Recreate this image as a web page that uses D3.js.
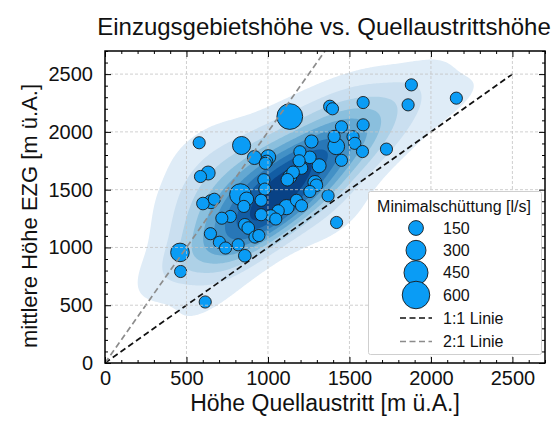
<!DOCTYPE html>
<html><head><meta charset="utf-8">
<script src="https://cdn.jsdelivr.net/npm/d3@7"></script>
<style>body{margin:0;background:#fff} svg{display:block;font-family:"Liberation Sans", Arial, Helvetica, sans-serif}</style>
</head><body><svg id="c" width="551" height="424"></svg>
<script>
// ---- data ----
const hoeheQuelle = [1134,578,838,1267,917,1002,991,984,1196,1191,1257,1314,1206,1154,1134,1119,975,981,1288,1297,831,869,958,852,601,650,671,633,586,1114,1175,1206,1063,1018,1048,958,1369,1421,769,717,858,879,647,920,944,702,817,740,858,460,464,615,1380,1396,1584,1880,2156,1860,1451,1584,1406,1522,1533,1419,1580,1727,1451,1257];
const hoeheEZG    = [2133,1906,1882,1917,1778,1782,1744,1728,1828,1750,1780,1707,1687,1650,1612,1586,1586,1505,1562,1538,1458,1419,1408,1355,1380,1396,1417,1644,1614,1349,1408,1361,1317,1274,1246,1283,1447,1216,1268,1253,1196,1168,1119,1090,1103,1045,1023,995,928,957,792,528,2220,2200,2254,2407,2292,2234,2044,2061,1960,1958,1901,1875,1830,1851,1754,1484];
const minSchuettung = [520,90,240,110,130,150,100,90,90,90,100,130,100,100,130,100,90,90,130,100,355,130,90,90,100,130,90,130,90,160,90,90,90,90,90,90,90,90,90,90,100,100,90,90,90,90,90,90,100,255,90,90,100,90,90,90,90,90,90,90,90,90,90,200,90,90,90,90];
const xTicks = [0,500,1000,1500,2000,2500];
const yTicks = [0,500,1000,1500,2000,2500];
const legendSizes = [150,300,450,600];
const legendLines = ["1:1 Linie","2:1 Linie"];
const titleText = "Einzugsgebietshöhe vs. Quellaustrittshöhe";
const xLabel = "Höhe Quellaustritt [m ü.A.]";
const yLabel = "mittlere Höhe EZG [m ü.A.]";
const legendTitle = "Minimalschüttung [l/s]";

// ---- layout ----
const L = 105, R = 545, T = 51, B = 363;
const svg = d3.select("#c");
const x = d3.scaleLinear().domain([0,2700]).range([L,R]);
const y = d3.scaleLinear().domain([0,2700]).range([B,T]);
const area = d3.scaleLinear().domain([0,600]).range([10,190]);
const rad = v => Math.sqrt(area(v));

svg.append("clipPath").attr("id","clip").append("rect")
  .attr("x",L).attr("y",T).attr("width",R-L).attr("height",B-T);

// ---- KDE (gaussian, full covariance, scott) ----
const n = hoeheQuelle.length;
const mx = d3.mean(hoeheQuelle), my = d3.mean(hoeheEZG);
let sxx=0, syy=0, sxy=0;
for (let i=0;i<n;i++){const dx=hoeheQuelle[i]-mx, dy=hoeheEZG[i]-my; sxx+=dx*dx; syy+=dy*dy; sxy+=dx*dy;}
sxx/=(n-1); syy/=(n-1); sxy/=(n-1);
const bwAdjust = 1.15;
const f2 = Math.pow(bwAdjust*Math.pow(n,-1/6),2);
const a=sxx*f2, b=sxy*f2, c=syy*f2, det=a*c-b*b;
const ia=c/det, ib=-b/det, ic=a/det;
const step=10, nx=271, ny=271;
const values = new Float64Array(nx*ny);
for (let j=0;j<ny;j++){ const gy=j*step;
  for (let i=0;i<nx;i++){ const gx=i*step; let s=0;
    for (let k=0;k<n;k++){ const dx=gx-hoeheQuelle[k], dy=gy-hoeheEZG[k];
      s+=Math.exp(-0.5*(ia*dx*dx+2*ib*dx*dy+ic*dy*dy)); }
    values[j*nx+i]=s; } }
const sorted = Array.from(values).sort((p,q)=>q-p);
const total = d3.sum(sorted);
const cum = []; let acc=0; for (const v of sorted){acc+=v; cum.push(acc/total);}
const isoprops = d3.range(10).map(i=>0.05+i*0.95/9);
const levels = isoprops.map(p=>{const t=1-p; let idx=d3.bisectLeft(cum,t); return sorted[Math.min(idx,sorted.length-1)];});
const bandLevels = levels.slice(0,9);
const contours = d3.contours().size([nx,ny]).thresholds(bandLevels)(values);
const proj = d3.geoTransform({point(px,py){this.stream.point(x((px-0.5)*step), y((py-0.5)*step));}});
const gpath = d3.geoPath(proj);
const bandColor = d3.scaleLinear().domain([0,8]).range([0.12,0.93]);
const plotG = svg.append("g").attr("clip-path","url(#clip)");
plotG.selectAll("path.kde").data(contours).join("path").attr("class","kde")
  .attr("d",gpath).attr("fill",(d,i)=>d3.interpolateBlues(bandColor(i))).attr("stroke","none");

// ---- grid ----
const grid = svg.append("g").attr("stroke","#c4c4c4").attr("stroke-width",0.8).attr("stroke-dasharray","3,2");
xTicks.filter(t=>t>0).forEach(t=>grid.append("line").attr("x1",x(t)).attr("x2",x(t)).attr("y1",T).attr("y2",B));
yTicks.filter(t=>t>0).forEach(t=>grid.append("line").attr("y1",y(t)).attr("y2",y(t)).attr("x1",L).attr("x2",R));

// ---- points ----
const pts = d3.range(n).sort((i,j)=>minSchuettung[j]-minSchuettung[i]);
plotG.selectAll("circle.pt").data(pts).join("circle").attr("class","pt")
  .attr("cx",i=>x(hoeheQuelle[i])).attr("cy",i=>y(hoeheEZG[i])).attr("r",i=>rad(minSchuettung[i]))
  .attr("fill","#0a9cf5").attr("stroke","#1a1a1a").attr("stroke-width",0.9);

// ---- reference lines ----
plotG.append("line").attr("x1",x(0)).attr("y1",y(0)).attr("x2",x(2500)).attr("y2",y(2500))
  .attr("stroke","#111").attr("stroke-width",1.7).attr("stroke-dasharray","6,3.5");
plotG.append("line").attr("x1",x(0)).attr("y1",y(0)).attr("x2",x(1350)).attr("y2",y(2700))
  .attr("stroke","#8c8c8c").attr("stroke-width",1.7).attr("stroke-dasharray","6,3.5");

// ---- axes ----
const minorX = d3.range(0,2701,100).filter(v=>v%500!==0);
const fmt = d3.format("d");
function styleAxis(g){g.select(".domain").remove(); g.selectAll("line").attr("stroke","#000").attr("stroke-width",1);}
svg.append("g").attr("transform",`translate(0,${B})`)
  .call(d3.axisBottom(x).tickValues(xTicks).tickFormat(fmt).tickSize(-6).tickPadding(7.5))
  .call(styleAxis).selectAll("text").attr("font-size",20).attr("fill","#111").attr("font-family","Liberation Sans, Arial, sans-serif");
svg.append("g").attr("transform",`translate(0,${B})`).call(d3.axisBottom(x).tickValues(minorX).tickFormat("").tickSize(-3)).call(styleAxis);
svg.append("g").attr("transform",`translate(0,${T})`).call(d3.axisTop(x).tickValues(xTicks).tickFormat("").tickSize(-6)).call(styleAxis);
svg.append("g").attr("transform",`translate(0,${T})`).call(d3.axisTop(x).tickValues(minorX).tickFormat("").tickSize(-3)).call(styleAxis);
svg.append("g").attr("transform",`translate(${L},0)`)
  .call(d3.axisLeft(y).tickValues(yTicks).tickFormat(fmt).tickSize(-6).tickPadding(12))
  .call(styleAxis).selectAll("text").attr("font-size",20).attr("fill","#111").attr("font-family","Liberation Sans, Arial, sans-serif");
svg.append("g").attr("transform",`translate(${L},0)`).call(d3.axisLeft(y).tickValues(minorX).tickFormat("").tickSize(-3)).call(styleAxis);
svg.append("g").attr("transform",`translate(${R},0)`).call(d3.axisRight(y).tickValues(yTicks).tickFormat("").tickSize(-6)).call(styleAxis);
svg.append("g").attr("transform",`translate(${R},0)`).call(d3.axisRight(y).tickValues(minorX).tickFormat("").tickSize(-3)).call(styleAxis);
svg.append("rect").attr("x",L).attr("y",T).attr("width",R-L).attr("height",B-T)
  .attr("fill","none").attr("stroke","#000").attr("stroke-width",1.5);

// ---- labels ----
svg.append("text").attr("x",324).attr("y",35).attr("text-anchor","middle").attr("font-size",24).attr("fill","#111").text(titleText);
svg.append("text").attr("x",(L+R)/2).attr("y",411).attr("text-anchor","middle").attr("font-size",23).attr("fill","#111").text(xLabel);
svg.append("text").attr("transform",`translate(37,216) rotate(-90)`).attr("text-anchor","middle").attr("font-size",22).attr("fill","#111").text(yLabel);

// ---- legend ----
const lg = svg.append("g");
lg.append("rect").attr("x",368.5).attr("y",191.5).attr("width",173).attr("height",163).attr("rx",2)
  .attr("fill","#fff").attr("stroke","#cfcfcf").attr("stroke-width",1);
lg.append("text").attr("x",454).attr("y",206).attr("dy","0.35em").attr("text-anchor","middle").attr("font-size",16).attr("fill","#111").text(legendTitle);
const ly = d3.scalePoint().domain(legendSizes).range([228,295]);
legendSizes.forEach(v=>{
  lg.append("circle").attr("cx",416).attr("cy",ly(v)).attr("r",rad(v)).attr("fill","#0a9cf5").attr("stroke","#1a1a1a").attr("stroke-width",0.9);
  lg.append("text").attr("x",443).attr("y",ly(v)).attr("dy","0.35em").attr("font-size",16).attr("fill","#111").text(v);
});
const lineColors = ["#111","#8c8c8c"];
const lly = d3.scalePoint().domain(legendLines).range([318,341.5]);
legendLines.forEach((t,i)=>{
  lg.append("line").attr("x1",400).attr("x2",432).attr("y1",lly(t)).attr("y2",lly(t)).attr("stroke",lineColors[i]).attr("stroke-width",1.7).attr("stroke-dasharray","6,3.5");
  lg.append("text").attr("x",443).attr("y",lly(t)).attr("dy","0.35em").attr("font-size",16).attr("fill","#111").text(t);
});
</script></body></html>
